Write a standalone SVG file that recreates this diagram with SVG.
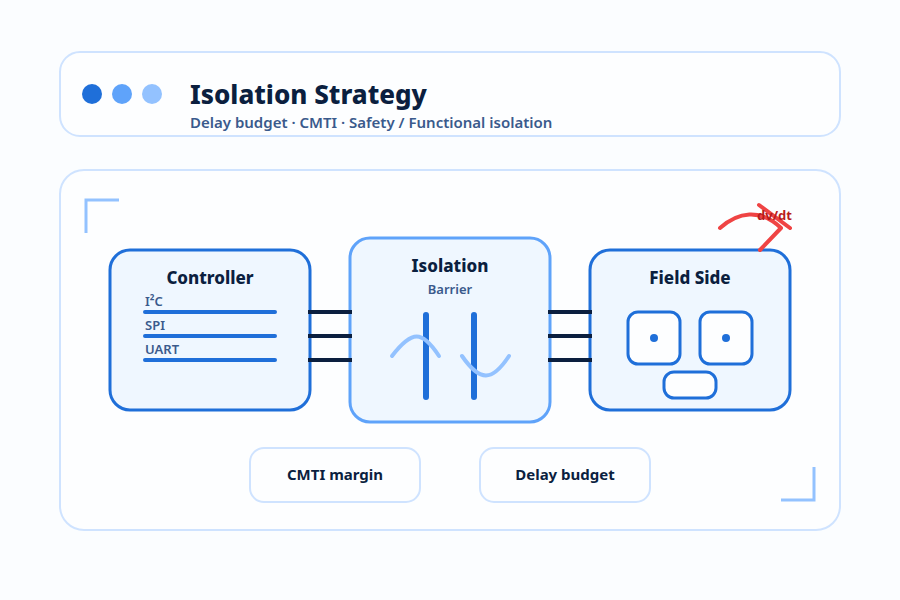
<svg xmlns="http://www.w3.org/2000/svg" width="900" height="600" viewBox="0 0 900 600">
<style>
text{font-family:"Noto Sans","Liberation Sans",sans-serif;text-anchor:middle}
.card{fill:#fdfeff;stroke:#cfe3ff;stroke-width:2}
.blk{fill:#eff7ff;stroke:#1f6fd9;stroke-width:3}
.h{font-size:17px;font-weight:800;fill:#0b1f3f}
.s{font-size:13px;font-weight:600;fill:#3a5a8c}
.bus{stroke:#1f6fd9;stroke-width:4;stroke-linecap:round;fill:none}
.link{stroke:#0b1f3f;stroke-width:4;fill:none}
.wave{stroke:#93c2ff;stroke-width:4;stroke-linecap:round;fill:none}
.ic{fill:#fdfeff;stroke:#1f6fd9;stroke-width:3}
.red{stroke:#ef4444;stroke-width:4;stroke-linecap:round;stroke-linejoin:round;fill:none}
.corner{stroke:#93c2ff;stroke-width:3;fill:none}
.p{font-size:15px;font-weight:700;fill:#0b1f3f}
</style>
<rect width="900" height="600" fill="#fbfdff"/>
<g id="header">
<rect class="card" x="60" y="52" width="780" height="84" rx="20"/>
<circle cx="92" cy="94" r="10" fill="#1f6fd9"/>
<circle cx="122" cy="94" r="10" fill="#5fa3fa"/>
<circle cx="152" cy="94" r="10" fill="#93c2ff"/>
<text x="190" y="104" style="font-size:26px;font-weight:800;fill:#0b1f3f;text-anchor:start">Isolation Strategy</text>
<text x="190" y="128" style="font-size:15px;font-weight:600;fill:#3a5a8c;text-anchor:start">Delay budget · CMTI · Safety / Functional isolation</text>
</g>
<g id="panel">
<rect class="card" x="60" y="170" width="780" height="360" rx="24"/>
<path class="corner" d="M86 233V200H119"/>
<path class="corner" d="M814 467V500H781"/>
</g>
<g id="controller">
<rect class="blk" x="110" y="250" width="200" height="160" rx="20"/>
<text class="h" x="210" y="284">Controller</text>
<text class="s" x="145" y="306" style="text-anchor:start">I²C</text>
<text class="s" x="145" y="330" style="text-anchor:start">SPI</text>
<text class="s" x="145" y="354" style="text-anchor:start">UART</text>
<path class="bus" d="M145 312H275M145 336H275M145 360H275"/>
</g>
<g id="isolation">
<rect class="blk" x="350" y="238" width="200" height="184" rx="20" style="stroke:#5fa3fa"/>
<text class="h" x="450" y="272">Isolation</text>
<text class="s" x="450" y="294">Barrier</text>
<path class="bus" d="M426 315V397M474 315V397" style="stroke-width:6"/>
<path class="wave" d="M392 356C412 330 422 330 439 356"/>
<path class="wave" d="M462 356C480 382 492 382 509 356"/>
</g>
<g id="field">
<rect class="blk" x="590" y="250" width="200" height="160" rx="20"/>
<text class="h" x="690" y="284">Field Side</text>
<rect class="ic" x="628" y="312" width="52" height="52" rx="10"/>
<rect class="ic" x="700" y="312" width="52" height="52" rx="10"/>
<circle cx="654" cy="338" r="4" fill="#1f6fd9"/>
<circle cx="726" cy="338" r="4" fill="#1f6fd9"/>
<rect class="ic" x="664" y="372" width="52" height="26" rx="10"/>
</g>
<g id="connectors">
<path class="link" d="M308 312H352M308 336H352M308 360H352M548 312H592M548 336H592M548 360H592"/>
</g>
<g id="dvdt">
<path class="red" d="M720 228C738 212 760 208 781 228L760 250"/>
<path class="red" d="M759 205L790 228"/>
<text x="774.500" y="220" style="font-size:13px;font-weight:700;fill:#b91c1c">dv/dt</text>
</g>
<g id="cmti">
<rect class="card" x="250" y="448" width="170" height="54" rx="14"/>
<text class="p" x="335" y="480">CMTI margin</text>
</g>
<g id="delay">
<rect class="card" x="480" y="448" width="170" height="54" rx="14"/>
<text class="p" x="565" y="480">Delay budget</text>
</g>
</svg>
